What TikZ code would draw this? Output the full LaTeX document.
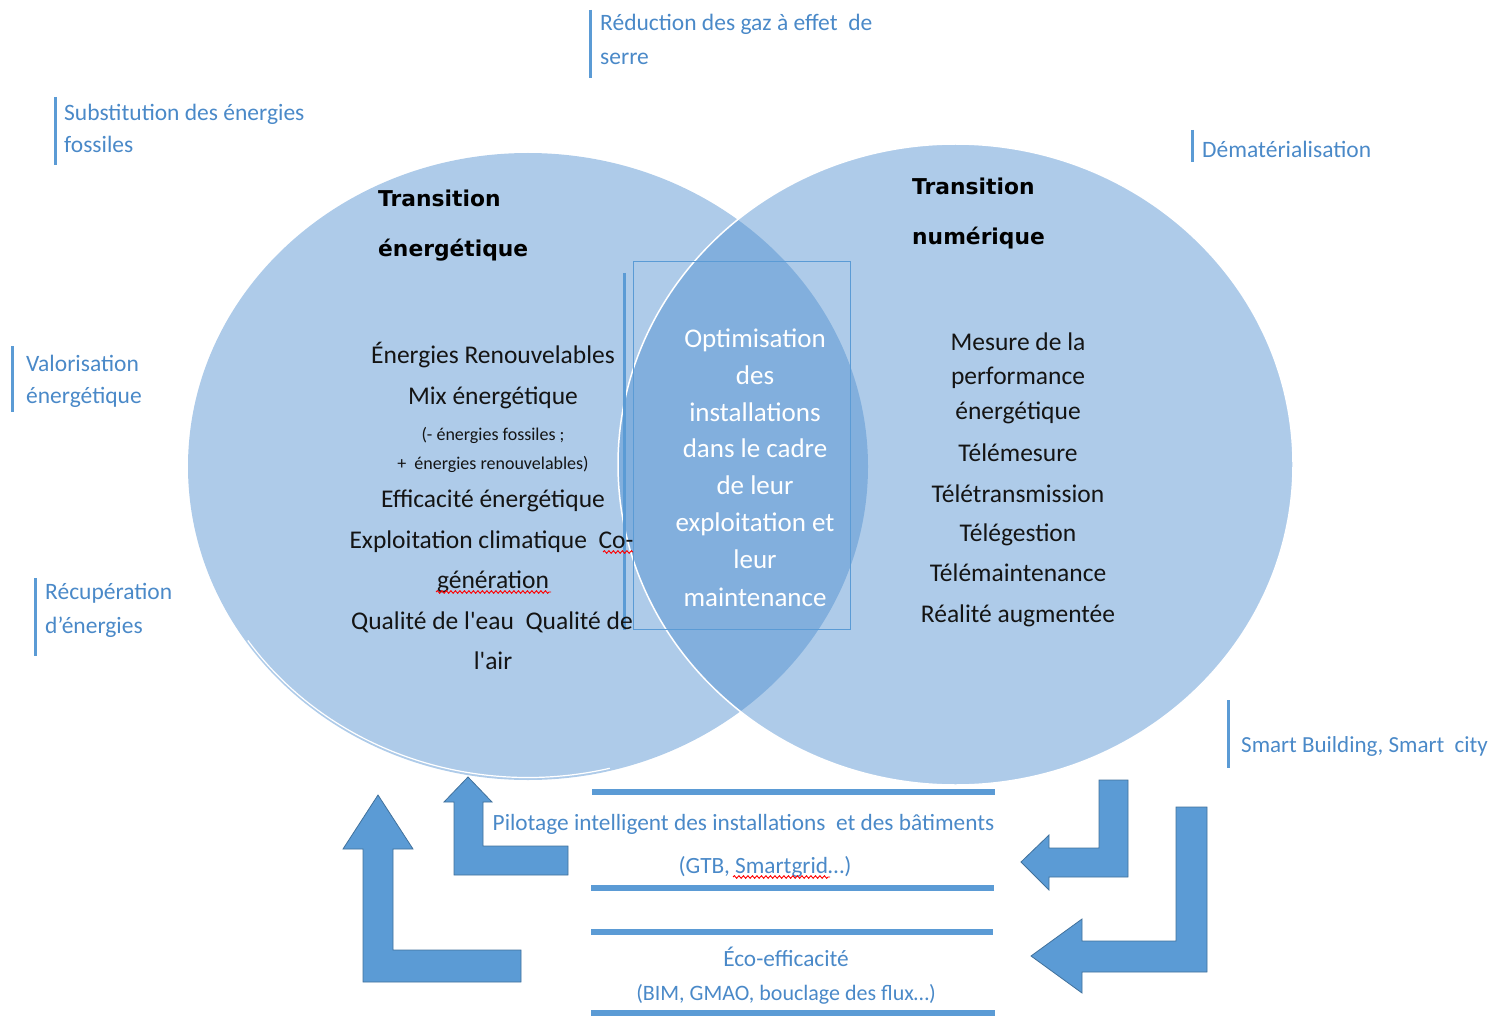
\documentclass[tikz,border=0pt]{standalone}
\usepackage{fontspec}
\setmainfont{Carlito}
\newfontfamily\titlefont{DejaVu Sans}
\usetikzlibrary{shapes.geometric,decorations.pathmorphing}
\definecolor{ringblue}{RGB}{78,142,207}
\definecolor{accent}{RGB}{91,155,213}
\definecolor{accentdark}{RGB}{65,113,156}
\definecolor{labelblue}{RGB}{74,137,200}
\definecolor{bodyink}{RGB}{20,20,20}
\begin{document}
\begin{tikzpicture}[x=1pt,y=-1pt,
  ring/.style={ellipse, fill=ringblue, fill opacity=0.46, inner sep=0pt},
  title/.style={anchor=base west, font=\titlefont\bfseries\fontsize{21.8}{26}\selectfont, text=black, inner sep=0pt},
  body/.style={anchor=base, font=\fontsize{25.5}{30}\selectfont, text=bodyink, inner sep=0pt},
  small/.style={anchor=base, font=\fontsize{18}{22}\selectfont, text=bodyink, inner sep=0pt},
  core/.style={anchor=base, font=\fontsize{27}{30}\selectfont, text=white, inner sep=0pt},
  tag/.style={anchor=base west, font=\fontsize{23.5}{30}\selectfont, text=labelblue, inner sep=0pt},
  band/.style={anchor=base, font=\fontsize{23.3}{30}\selectfont, text=labelblue, inner sep=0pt},
  tagbar/.style={draw=accent, line width=3pt},
  bandline/.style={draw=accent, line width=6pt},
  bentarrow/.style={fill=accent, draw=accentdark, line width=0.8pt, line join=miter},
  spell/.style={draw=red, line width=0.9pt, decorate, decoration={snake, amplitude=1.3pt, segment length=4.5pt}},
]
\useasboundingbox (0,0) rectangle (1504,1016);

% the two overlapping fields
\node[ring, minimum width=680pt, minimum height=627pt] (lc) at (528,466.5) {};
\draw[white, line width=1.2pt] ([shift={(214:338pt and 311pt)}]lc.center)
  arc[start angle=214, end angle=284, x radius=338pt, y radius=311pt];
\node[ring, minimum width=675pt, minimum height=641pt, draw=white, draw opacity=1, line width=1.5pt] (rc) at (955.5,464.5) {};

% frame around the shared area
\draw[accent, line width=1.2pt] (633.5,261.5) rectangle (850.5,629.5);
\draw[accent, line width=2.5pt] (624.5,273) -- (624.5,630);

% titles
\node[title] (tE1) at (378,207) {Transition};
\node[title] (tE2) at (378,257) {énergétique};
\node[title] (tN1) at (912,195) {Transition};
\node[title] (tN2) at (912,245) {numérique};

% energy transition items
\node[body] (e1) at (493,363) {Énergies Renouvelables};
\node[body] (e2) at (493,404) {Mix énergétique};
\node[small] (e3) at (493,440) {(- énergies fossiles ;};
\node[small] (e4) at (493,469) {+\ \ énergies renouvelables)};
\node[body] (e5) at (493,507) {Efficacité énergétique};
\node[body] (e6) at (491.5,548) {Exploitation climatique\ \ Co-};
\node[body] (e7) at (493,588) {génération};
\node[body] (e8) at (492,629) {Qualité de l\textquotesingle eau\ \ Qualité de};
\node[body] (e9) at (493,669) {l\textquotesingle air};
\draw[spell] (603,552) -- (633,552);
\draw[spell] (436,592) -- (551,592);

% digital transition items
\node[body] (n1) at (1018,350) {Mesure de la};
\node[body] (n2) at (1018,384) {performance};
\node[body] (n3) at (1018,419) {énergétique};
\node[body] (n4) at (1018,461) {Télémesure};
\node[body] (n5) at (1018,502) {Télétransmission};
\node[body] (n6) at (1018,541) {Télégestion};
\node[body] (n7) at (1018,581) {Télémaintenance};
\node[body] (n8) at (1018,622) {Réalité augmentée};

% shared core
\node[core] (c1) at (755,347) {Optimisation};
\node[core] (c2) at (755,384) {des};
\node[core] (c3) at (755,421) {installations};
\node[core] (c4) at (755,457) {dans le cadre};
\node[core] (c5) at (755,494) {de leur};
\node[core] (c6) at (755,531) {exploitation et};
\node[core] (c7) at (755,568) {leur};
\node[core] (c8) at (755,606) {maintenance};

% side tags
\draw[tagbar] (590,10) -- (590,78);
\node[tag] (red1) at (600,31) {Réduction des gaz à effet\ \ de};
\node[tag] (red2) at (600,65) {serre};
\draw[tagbar] (55,97) -- (55,165);
\node[tag] (sub1) at (64,121) {Substitution des énergies};
\node[tag] (sub2) at (64,153) {fossiles};
\draw[tagbar] (1192,130) -- (1192,162);
\node[tag] (dem) at (1202,158) {Dématérialisation};
\draw[tagbar] (12,346) -- (12,412);
\node[tag] (val1) at (26,371) {Valorisation};
\node[tag] (val2) at (26,403) {énergétique};
\draw[tagbar] (35,578) -- (35,656);
\node[tag] (rec1) at (45,599) {Récupération};
\node[tag] (rec2) at (45,633) {d’énergies};
\draw[tagbar] (1228,700) -- (1228,768);
\node[tag, font=\fontsize{23}{30}\selectfont] (smt) at (1241,752) {Smart Building, Smart\ \ city};

% bands
\draw[bandline] (592,792) -- (995,792);
\node[band] (p1) at (743.5,830) {Pilotage intelligent des installations\ \ et des bâtiments};
\node[band] (p2) at (765,873) {(GTB, Smartgrid…)};
\draw[spell] (733,877) -- (830,877);
\draw[bandline] (591,888) -- (994,888);
\draw[bandline] (591,932) -- (993,932);
\node[band] (q1) at (786,966) {Éco-efficacité};
\node[band, font=\fontsize{22}{30}\selectfont] (q2) at (786,1000) {(BIM, GMAO, bouclage des flux…)};
\draw[bandline] (591,1013) -- (995,1013);

% bent arrows
\draw[bentarrow] (468,777) -- (492,802) -- (483,802) -- (483,846) -- (568,846) -- (568,875)
  -- (454,875) -- (454,802) -- (444,802) -- cycle;
\draw[bentarrow] (378,795) -- (413,849) -- (393,849) -- (393,950) -- (521,950) -- (521,982)
  -- (363,982) -- (363,849) -- (343,849) -- cycle;
\draw[bentarrow] (1099,780) -- (1128,780) -- (1128,877) -- (1049,877) -- (1049,890) -- (1021,862)
  -- (1049,835) -- (1049,848) -- (1099,848) -- cycle;
\draw[bentarrow] (1176,807) -- (1207,807) -- (1207,972) -- (1082,972) -- (1082,993) -- (1031,956)
  -- (1082,919) -- (1082,941) -- (1176,941) -- cycle;
\end{tikzpicture}
\end{document}
